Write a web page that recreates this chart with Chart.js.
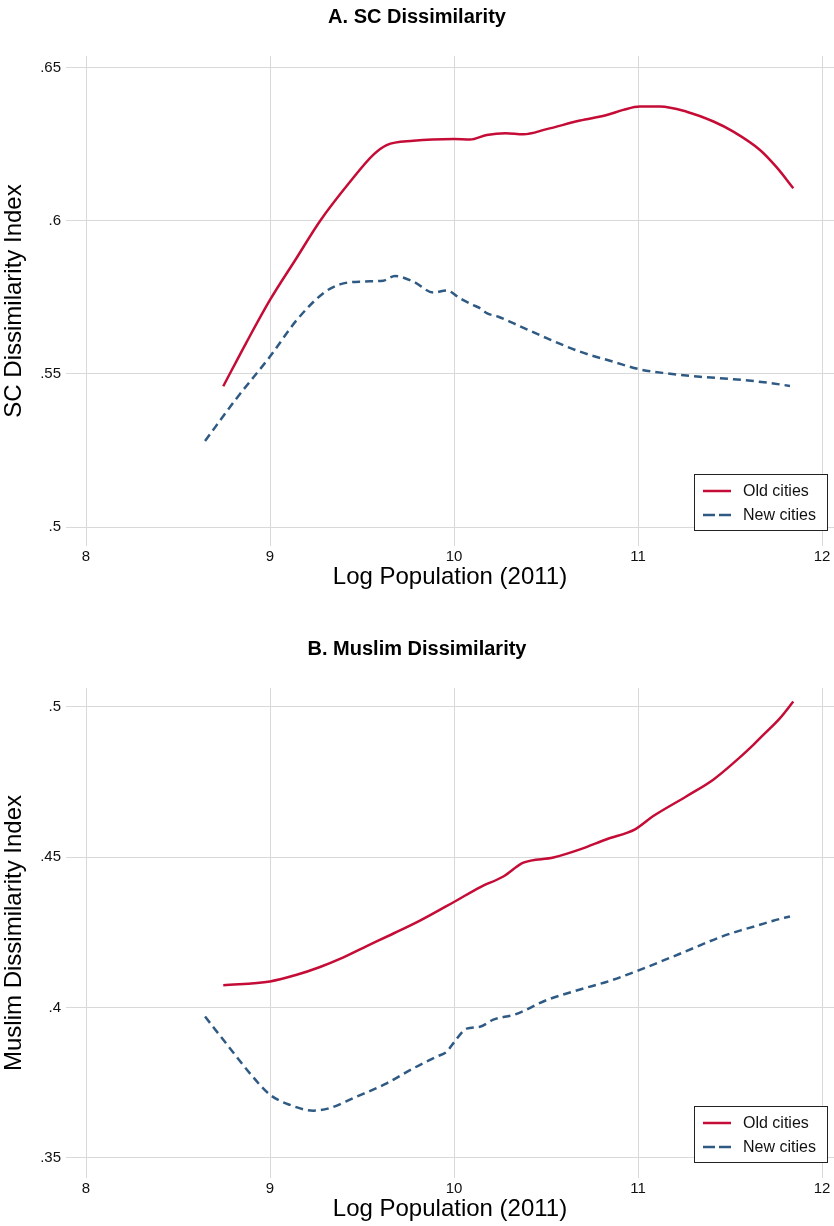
<!DOCTYPE html>
<html>
<head>
<meta charset="utf-8">
<script src="https://cdn.jsdelivr.net/npm/chart.js@4"></script>
<style>
  html, body { margin: 0; padding: 0; background: #fff; }
  body { width: 834px; height: 1226px; position: relative; overflow: hidden; }
  .panel { position: absolute; left: 0; width: 834px; height: 592px; }
  #panelA { top: 0; }
  #panelB { top: 632px; }
</style>
</head>
<body>
<div class="panel" id="panelA"><canvas id="grafA"></canvas></div>
<div class="panel" id="panelB"><canvas id="grafB"></canvas></div>
<script>
// x axis: log population
const xTicks = [8, 9, 10, 11, 12]

// panel A, SC dissimilarity
const scTicks = [0.5, 0.55, 0.6, 0.65]
const scTickLabels = ['.5', '.55', '.6', '.65']
const scOldX = [8.746, 8.87, 9.0, 9.14, 9.272, 9.435, 9.561, 9.634, 9.779, 10.0, 10.087, 10.178, 10.28, 10.377, 10.504, 10.685, 10.83, 10.92, 11.01, 11.12, 11.264, 11.41, 11.518, 11.663, 11.754, 11.844]
const scOldY = [0.546, 0.5601, 0.5742, 0.5875, 0.600, 0.6128, 0.6216, 0.6248, 0.6262, 0.6268, 0.6266, 0.6281, 0.6287, 0.6283, 0.630, 0.6328, 0.6346, 0.6363, 0.6374, 0.6374, 0.6357, 0.6325, 0.6292, 0.6232, 0.6175, 0.6107]
const scNewX = [8.647, 8.819, 9.0, 9.145, 9.29, 9.38, 9.507, 9.616, 9.679, 9.779, 9.888, 9.96, 10.033, 10.105, 10.141, 10.178, 10.241, 10.322, 10.504, 10.685, 10.866, 11.011, 11.156, 11.337, 11.518, 11.7, 11.826]
const scNewY = [0.5281, 0.5421, 0.5557, 0.5676, 0.5764, 0.5793, 0.5802, 0.5805, 0.582, 0.5802, 0.5766, 0.5773, 0.5747, 0.5725, 0.5715, 0.5699, 0.5687, 0.5666, 0.5617, 0.5573, 0.554, 0.5515, 0.5502, 0.5491, 0.5483, 0.5472, 0.5461]

// panel B, Muslim dissimilarity
const muTicks = [0.35, 0.4, 0.45, 0.5]
const muTickLabels = ['.35', '.4', '.45', '.5']
const muOldX = [8.746, 9.0, 9.145, 9.272, 9.38, 9.52, 9.66, 9.815, 10.002, 10.141, 10.268, 10.377, 10.54, 10.685, 10.83, 10.984, 11.083, 11.264, 11.409, 11.518, 11.627, 11.681, 11.772, 11.844]
const muOldY = [0.4074, 0.4087, 0.4109, 0.4135, 0.4162, 0.4203, 0.4243, 0.4289, 0.4352, 0.44, 0.4436, 0.4482, 0.4499, 0.4526, 0.456, 0.4593, 0.4637, 0.4703, 0.4758, 0.4813, 0.4874, 0.4907, 0.4963, 0.5018]
const muNewX = [8.647, 8.783, 8.891, 9.0, 9.109, 9.235, 9.326, 9.453, 9.634, 9.779, 9.906, 9.96, 9.996, 10.069, 10.141, 10.214, 10.332, 10.504, 10.685, 10.848, 11.0, 11.228, 11.446, 11.554, 11.645, 11.735, 11.826]
const muNewY = [0.397, 0.3864, 0.3781, 0.371, 0.3676, 0.3657, 0.3666, 0.3699, 0.3748, 0.3798, 0.3837, 0.3853, 0.3881, 0.393, 0.3936, 0.396, 0.3977, 0.4025, 0.406, 0.4089, 0.4123, 0.4179, 0.4234, 0.4256, 0.4272, 0.4289, 0.4303]

const seriesNames = ['Old cities', 'New cities']
const oldColor = '#c40c36'
const newColor = '#2f5a84'
const gridColor = '#d9d9d9'
const fontFam = '"Liberation Sans", Arial, Helvetica, sans-serif'

Chart.defaults.font.family = fontFam
Chart.defaults.color = '#111'

const toPoints = (xs, ys) => xs.map((x, i) => ({ x: x, y: ys[i] }))

// boxed legend drawn inside the plot, bottom right
const boxLegend = {
    id: 'boxLegend',
    afterDraw(chart) {
        const ctx = chart.ctx
        const area = chart.chartArea
        const w = 134, h = 57
        const left = area.right - 6 - w
        const top = area.bottom - 15 - h
        ctx.save()
        ctx.fillStyle = '#fff'
        ctx.fillRect(left, top, w, h)
        ctx.strokeStyle = '#222'
        ctx.lineWidth = 1
        ctx.strokeRect(left + 0.5, top + 0.5, w - 1, h - 1)
        chart.data.datasets.forEach((ds, i) => {
            const y = top + 17 + i * 24
            ctx.beginPath()
            ctx.strokeStyle = ds.borderColor
            ctx.lineWidth = 2.5
            ctx.setLineDash(i === 1 ? [12, 4] : [])
            ctx.moveTo(left + 9, y)
            ctx.lineTo(left + 37, y)
            ctx.stroke()
            ctx.setLineDash([])
            ctx.fillStyle = '#111'
            ctx.font = '16px ' + fontFam
            ctx.textBaseline = 'middle'
            ctx.fillText(ds.label, left + 49, y + 1)
        })
        ctx.restore()
    }
}

function makeChart(el, title, yTitle, yMin, yMax, yTicks, yLabels, oldX, oldY, newX, newY) {
    return new Chart(el, {
        type: 'line',
        data: {
            datasets: [{
                label: seriesNames[0],
                data: toPoints(oldX, oldY),
                borderColor: oldColor,
                borderWidth: 2.5,
                pointRadius: 0,
                cubicInterpolationMode: 'monotone',
                fill: false
            }, {
                label: seriesNames[1],
                data: toPoints(newX, newY),
                borderColor: newColor,
                borderWidth: 2.5,
                borderDash: [8, 5],
                pointRadius: 0,
                cubicInterpolationMode: 'monotone',
                fill: false
            }]
        },
        options: {
            responsive: true,
            maintainAspectRatio: false,
            animation: false,
            layout: { padding: 0 },
            plugins: {
                legend: { display: false },
                tooltip: { enabled: false },
                title: {
                    display: true,
                    text: title,
                    color: '#000',
                    font: { size: 20, weight: 'bold' },
                    padding: { top: 5, bottom: 27 }
                }
            },
            scales: {
                x: {
                    type: 'linear',
                    min: 7.8913,
                    max: 12.0652,
                    afterBuildTicks: s => { s.ticks = xTicks.map(v => ({ value: v })) },
                    afterFit: s => { s.height = 46 },
                    grid: { color: gridColor, lineWidth: 1, drawTicks: false },
                    border: { display: false },
                    ticks: { font: { size: 15 }, padding: 2, maxRotation: 0, color: '#111' },
                    title: {
                        display: true,
                        text: 'Log Population (2011)',
                        color: '#000',
                        font: { size: 24 },
                        padding: { top: 0, bottom: 0 }
                    }
                },
                y: {
                    type: 'linear',
                    min: yMin,
                    max: yMax,
                    afterBuildTicks: s => { s.ticks = yTicks.map(v => ({ value: v })) },
                    afterFit: s => { s.width = 66 },
                    grid: { color: gridColor, lineWidth: 1, drawTicks: false },
                    border: { display: false },
                    ticks: {
                        font: { size: 15 },
                        padding: 5,
                        color: '#111',
                        callback: v => {
                            const i = yTicks.findIndex(t => Math.abs(t - v) < 1e-9)
                            return i >= 0 ? yLabels[i] : ''
                        }
                    },
                    title: {
                        display: true,
                        text: yTitle,
                        color: '#000',
                        font: { size: 24 },
                        padding: { top: 0, bottom: 0 }
                    }
                }
            }
        },
        plugins: [boxLegend]
    })
}

makeChart(document.getElementById('grafA'), 'A. SC Dissimilarity', 'SC Dissimilarity Index',
    0.4938, 0.6539, scTicks, scTickLabels, scOldX, scOldY, scNewX, scNewY)

makeChart(document.getElementById('grafB'), 'B. Muslim Dissimilarity', 'Muslim Dissimilarity Index',
    0.3433, 0.5063, muTicks, muTickLabels, muOldX, muOldY, muNewX, muNewY)
</script>
</body>
</html>
